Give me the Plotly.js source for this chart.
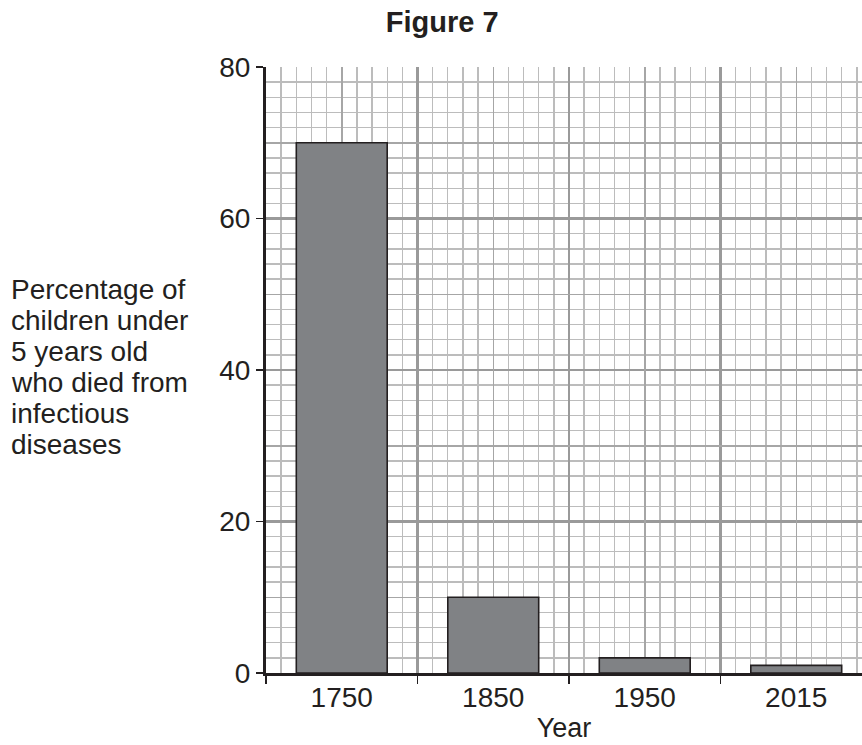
<!DOCTYPE html>
<html>
<head>
<meta charset="utf-8">
<script src="https://cdn.plot.ly/plotly-3.0.1.min.js"></script>
<style>html,body{margin:0;padding:0;background:#fff;}</style>
</head>
<body>
<div id="chart" style="width:862px;height:745px;"></div>
<script>
// Data
var categories = ['1750', '1850', '1950', '2015'];
var percentages = [70, 10, 2, 1];
var boundaryTicks = [-0.5, 0.5, 1.5, 2.5, 3.5];
var yTicks = [0, 20, 40, 60, 80];
var chartTitle = 'Figure 7';
var xTitle = 'Year';
var yTitleLines = ['Percentage of', 'children under', '5 years old', 'who died from', 'infectious', 'diseases'];

var idx = categories.map(function (_, i) { return i; });
var FONT = 'Liberation Sans, Arial, sans-serif';
var TXT = '#231f20';
var FS = 28;

var bars = {
  type: 'bar',
  x: idx,
  y: percentages,
  width: 0.6,
  marker: { color: '#808285', line: { color: TXT, width: 1.6 } },
  hoverinfo: 'skip',
  showlegend: false
};
var ghost = {
  type: 'scatter',
  mode: 'markers',
  x: idx,
  y: percentages,
  xaxis: 'x2',
  yaxis: 'y2',
  marker: { opacity: 0 },
  hoverinfo: 'skip',
  showlegend: false
};

// y-axis title as a tightly leaded left-aligned block (one annotation per line)
var plotTop = 67, plotH = 606, firstLineCenter = 289, lineStep = 31;
var yTitleAnnotations = yTitleLines.map(function (line, i) {
  var py = firstLineCenter + i * lineStep;
  return {
    text: line,
    xref: 'paper', yref: 'paper',
    x: -0.432, y: 1 - (py - plotTop) / plotH,
    xanchor: 'left', yanchor: 'middle',
    align: 'left', showarrow: false,
    font: { family: FONT, size: FS, color: TXT }
  };
});

var xr = [-0.5, 3.434];
var layout = {
  width: 862,
  height: 745,
  margin: { l: 266, r: 0, t: 67, b: 72, pad: 0 },
  paper_bgcolor: '#ffffff',
  plot_bgcolor: '#ffffff',
  font: { family: FONT, size: FS, color: TXT },
  title: {
    text: '<b>' + chartTitle + '</b>',
    xref: 'container', yref: 'container',
    x: 0.513, y: 0.971, xanchor: 'center', yanchor: 'middle',
    font: { family: FONT, size: 29, color: TXT }
  },
  xaxis: {
    type: 'linear',
    range: xr,
    tickmode: 'array',
    tickvals: boundaryTicks,
    showticklabels: false,
    ticks: 'outside', ticklen: 8, tickwidth: 1.5, tickcolor: TXT,
    showgrid: true, gridcolor: '#9a9a9a', gridwidth: 2.5,
    minor: { dtick: 0.1, tick0: -0.5, showgrid: true, gridcolor: '#bcbcbc', gridwidth: 1.4, ticks: '' },
    showline: true, linecolor: TXT, linewidth: 2.5,
    zeroline: false, fixedrange: true
  },
  xaxis2: {
    type: 'linear',
    overlaying: 'x',
    anchor: 'y2',
    side: 'bottom',
    range: xr,
    tickmode: 'array',
    tickvals: idx,
    ticktext: categories,
    ticks: '',
    ticklabelstandoff: 5,
    tickfont: { family: FONT, size: FS, color: TXT },
    showgrid: true, gridcolor: '#a6a6a6', gridwidth: 1.5,
    showline: false, zeroline: false,
    title: { text: xTitle, standoff: 6, font: { family: FONT, size: 27, color: TXT } },
    fixedrange: true
  },
  yaxis: {
    range: [0, 80],
    tickmode: 'array',
    tickvals: yTicks,
    ticks: 'outside', ticklen: 7, tickwidth: 1.5, tickcolor: TXT,
    tickfont: { family: FONT, size: FS, color: TXT },
    showgrid: true, gridcolor: '#9a9a9a', gridwidth: 2.5,
    minor: { dtick: 2, tick0: 0, showgrid: true, gridcolor: '#bcbcbc', gridwidth: 1.4, ticks: '' },
    showline: true, linecolor: TXT, linewidth: 3,
    zeroline: false, fixedrange: true
  },
  yaxis2: {
    overlaying: 'y',
    anchor: 'x2',
    side: 'right',
    range: [0, 80],
    tick0: 10, dtick: 20,
    showticklabels: false, ticks: '',
    showgrid: true, gridcolor: '#a6a6a6', gridwidth: 1.5,
    showline: false, zeroline: false, fixedrange: true
  },
  annotations: yTitleAnnotations,
  showlegend: false
};

Plotly.newPlot('chart', [bars, ghost], layout, { displayModeBar: false, staticPlot: true });
</script>
</body>
</html>
